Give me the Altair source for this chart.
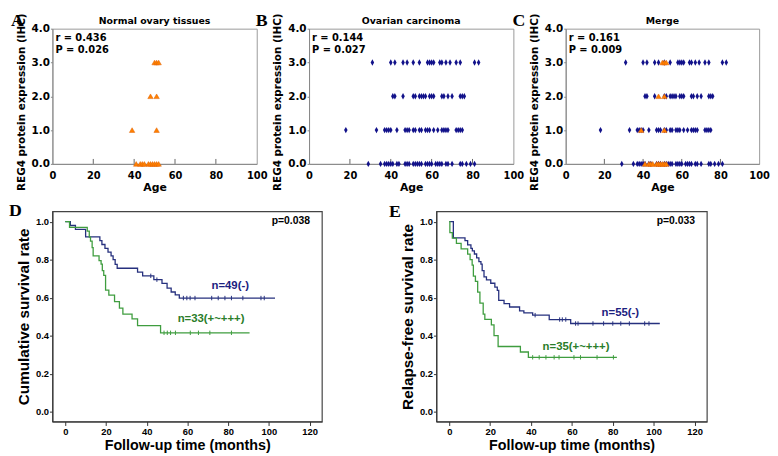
import altair as alt
import pandas as pd

# ---------------- data ----------------
levels = [0, 1, 2, 3]
level_ticks = [0, 1, 2, 3, 4]
age_ticks = [0, 20, 40, 60, 80, 100]

# Normal ovary tissues (orange triangles): ages per IHC level 0,1,2,3
normal_ages = [
    [41, 43, 44, 45, 47, 48, 49, 50, 51, 52],
    [39, 51],
    [48, 51],
    [50, 51, 52],
]
# Ovarian carcinoma (navy diamonds): ages per IHC level 0,1,2,3
carc_ages = [
    [29, 35, 37, 38, 39, 40, 41, 43, 44, 47, 48, 49, 51, 52, 53, 54, 55, 57,
     58, 59, 60, 62, 63, 64, 65, 67, 68, 70, 74, 75, 77, 79, 81],
    [18, 33, 37, 38, 39, 40, 43, 47, 48, 49, 51, 52, 54, 55, 57, 58, 59, 61,
     63, 65, 66, 67, 68, 72, 73, 74, 75],
    [41, 42, 46, 51, 52, 54, 55, 56, 57, 59, 60, 61, 65, 66, 68, 70, 74, 75, 76],
    [31, 40, 42, 46, 48, 51, 54, 58, 59, 60, 61, 64, 65, 67, 69, 72, 74, 81, 83],
]
panel_titles = ["Normal ovary tissues", "Ovarian carcinoma", "Merge"]
panel_stats = [("r = 0.436", "P = 0.026"), ("r = 0.144", "P = 0.027"),
               ("r = 0.161", "P = 0.009")]

# Kaplan-Meier, panel D (overall survival)
d_neg_t = [0, 2.5, 5, 10, 17, 18, 19.5, 21, 22.5, 23.5, 24.5, 25.5, 35.5, 38,
           43.5, 47.5, 50, 52, 54, 56, 103]
d_neg_s = [1.0, 0.98, 0.96, 0.92, 0.90, 0.88, 0.86, 0.84, 0.82, 0.80, 0.775,
           0.755, 0.735, 0.715, 0.695, 0.675, 0.65, 0.63, 0.615, 0.598, 0.598]
d_pos_t = [0, 2.1, 10.8, 11.8, 12.4, 13.2, 13.7, 16.6, 17.6, 18.2, 18.9, 19.8,
           21.4, 24.2, 26.6, 28.3, 32.8, 35.5, 46.8, 90.5]
d_pos_s = [1.0, 0.97, 0.95, 0.919, 0.898, 0.864, 0.82, 0.795, 0.777, 0.743,
           0.717, 0.64, 0.613, 0.579, 0.545, 0.514, 0.488, 0.453, 0.415, 0.415]
d_neg_cens_t = [42, 45, 58, 59.7, 61.3, 63.7, 71.9, 75.1, 78.4, 81.6, 87.2, 96.1, 97.7]
d_neg_cens_s = [0.715, 0.695, 0.598, 0.598, 0.598, 0.598, 0.598, 0.598, 0.598,
                0.598, 0.598, 0.598, 0.598]
d_pos_cens_t = [48.5, 50.1, 51.7, 54.1, 61.4, 65.4, 71, 81.6]
d_pos_cens_s = [0.415] * 8

# Kaplan-Meier, panel E (relapse-free survival)
e_neg_t = [0, 2, 7.7, 9, 10.6, 11.3, 12.3, 13.4, 14.5, 15.5, 16.1, 17, 18.2,
           20.3, 22.3, 23.5, 24.2, 26.8, 29.5, 34.4, 36.5, 40.8, 48.9, 59.4, 103]
e_neg_s = [1.0, 0.915, 0.90, 0.878, 0.86, 0.847, 0.83, 0.81, 0.79, 0.777, 0.743,
           0.71, 0.694, 0.676, 0.656, 0.638, 0.586, 0.569, 0.551, 0.53, 0.52,
           0.508, 0.485, 0.464, 0.464]
e_pos_t = [0, 0.3, 1.5, 3.5, 5.8, 9, 10.2, 11.2, 11.8, 12.8, 13.9, 15, 16.6,
           17.4, 20.6, 21.9, 23.9, 34.8, 38.7, 82]
e_pos_s = [1.0, 0.943, 0.914, 0.886, 0.857, 0.829, 0.8, 0.771, 0.714, 0.686,
           0.629, 0.571, 0.514, 0.486, 0.457, 0.4, 0.343, 0.314, 0.286, 0.286]
e_neg_cens_t = [42, 54, 55.3, 57, 61.8, 63, 70.3, 75.5, 80, 83.9, 88.1, 95.6, 97.7]
e_neg_cens_s = [0.508, 0.485, 0.485, 0.485, 0.464, 0.464, 0.464, 0.464, 0.464,
                0.464, 0.464, 0.464, 0.464]
e_pos_cens_t = [40.8, 44, 47.3, 51.3, 53.7, 61, 64.2, 72.3, 80.3]
e_pos_cens_s = [0.286] * 9

month_ticks = [0, 20, 40, 60, 80, 100, 120]
surv_ticks = [0.0, 0.2, 0.4, 0.6, 0.8, 1.0]

# ---------------- styles ----------------
SC_FONT = "DejaVu Sans"
KM_FONT = "Liberation Sans"
LETTER_FONT = "Liberation Serif"
NAVY = "#12128a"
ORANGE = "#ff8000"
KM_BLUE = "#26307e"
KM_GREEN = "#3f9d3f"
TXT_BLUE = "#1c2180"
TXT_GREEN = "#2a7d2a"
DIAMOND = "M0,-1L0.55,0L0,1L-0.55,0Z"
TICKMARK = "M0,-1L0,1"

SC_H = 137
KM_H = 213


def long_df(lists):
    rows = []
    for lvl, ages in zip(levels, lists):
        for a in ages:
            rows.append({"age": a, "level": lvl})
    return pd.DataFrame(rows)


def text_layer(txt, x, y, size, font, color="black", align="left",
               baseline="top", weight="bold"):
    return alt.Chart(pd.DataFrame({"txt": [txt]})).mark_text(
        align=align, baseline=baseline, font=font, fontSize=size,
        fontWeight=weight, color=color
    ).encode(text="txt:N", x=alt.value(x), y=alt.value(y))


def scatter_panel(idx, letter, width, show_blue, show_orange):
    xenc = alt.X("age:Q", scale=alt.Scale(domain=[0, 100], nice=False, zero=False),
                 axis=alt.Axis(values=age_ticks, title="Age", grid=False,
                               labelFont=SC_FONT, labelFontSize=10,
                               labelFontWeight="bold", labelColor="black",
                               titleFont=SC_FONT, titleFontSize=11,
                               titleFontWeight="bold", titleColor="black",
                               domainColor="#888", tickSize=0, labelPadding=7,
                               titlePadding=1, labelFlush=False,
                               labelOverlap=False))
    yenc = alt.Y("level:Q", scale=alt.Scale(domain=[0, 4], nice=False, zero=False),
                 axis=alt.Axis(values=level_ticks, format=".1f",
                               title="REG4 protein expression (IHC)", grid=False,
                               labelFont=SC_FONT, labelFontSize=10.5,
                               labelFontWeight="bold", labelColor="black",
                               titleFont=SC_FONT, titleFontSize=10.5,
                               titleFontWeight="bold", titleColor="black",
                               titleY=74,
                               domainColor="#888", tickColor="#888", tickSize=2,
                               labelPadding=1, titlePadding=5,
                               labelOverlap=False, labelFlush=False))
    layers = []
    base_axis = alt.Chart(long_df(carc_ages)).mark_point(opacity=0).encode(x=xenc, y=yenc)
    layers.append(base_axis)
    inner_ticks = alt.Chart(pd.DataFrame({"age": age_ticks[1:-1]})).mark_rule(
        color="#666", strokeWidth=1).encode(
        x=xenc, y=alt.value(SC_H), y2=alt.value(SC_H - 5))
    layers.append(inner_ticks)
    if show_blue:
        layers.append(alt.Chart(long_df(carc_ages)).mark_point(
            shape=DIAMOND, size=42, filled=True, color=NAVY, opacity=1
        ).encode(x=xenc, y=yenc))
    if show_orange:
        layers.append(alt.Chart(long_df(normal_ages)).mark_point(
            shape="triangle-up", size=30, filled=True, color=ORANGE, opacity=1,
            stroke="#e06000", strokeWidth=0.5
        ).encode(x=xenc, y=yenc))
    r_txt, p_txt = panel_stats[idx]
    layers.append(text_layer(r_txt, 3, 4, 10, SC_FONT))
    layers.append(text_layer(p_txt, 3, 17, 10, SC_FONT))
    # panel title as a text mark centred above the plot
    layers.append(text_layer(panel_titles[idx], width / 2, -3, 9.5, SC_FONT,
                             align="center", baseline="bottom"))
    layers.append(text_layer(letter, -42 if letter == "A" else -54, -17, 18, LETTER_FONT))
    return alt.layer(*layers).properties(
        width=width, height=SC_H,
        view=alt.ViewBackground(stroke="#999", strokeWidth=1),
    )


def km_df(t, s):
    return pd.DataFrame({"t": t, "s": s})


def km_panel(letter, letter_dx, letter_dy, ytitle, width,
             neg_t, neg_s, pos_t, pos_s, nc_t, nc_s, pc_t, pc_s,
             neg_label, neg_pos, pos_label, pos_pos, ptxt):
    xenc = alt.X("t:Q", scale=alt.Scale(domain=[-6.3, 126], nice=False, zero=False),
                 axis=alt.Axis(values=month_ticks, format="d",
                               title="Follow-up time (months)", grid=False,
                               labelFont=KM_FONT, labelFontSize=9.5,
                               labelFontWeight="bold", labelColor="black",
                               titleFont=KM_FONT, titleFontSize=14.5,
                               titleFontWeight="bold", titleColor="black",
                               domainColor="#333", tickColor="#333", tickSize=4,
                               labelPadding=1, titlePadding=3,
                               labelOverlap=False))
    yenc = alt.Y("s:Q", scale=alt.Scale(domain=[-0.052, 1.055], nice=False, zero=False),
                 axis=alt.Axis(values=surv_ticks, format=".1f", title=ytitle,
                               grid=False, labelFont=KM_FONT, labelFontSize=9.5,
                               labelFontWeight="bold", labelColor="black",
                               titleFont=KM_FONT, titleFontSize=15.5,
                               titleFontWeight="bold", titleColor="black",
                               domainColor="#333", tickColor="#333", tickSize=3,
                               labelPadding=1, titlePadding=4,
                               labelOverlap=False))
    neg_line = alt.Chart(km_df(neg_t, neg_s)).mark_line(
        interpolate="step-after", color=KM_BLUE, strokeWidth=1.3).encode(x=xenc, y=yenc)
    pos_line = alt.Chart(km_df(pos_t, pos_s)).mark_line(
        interpolate="step-after", color=KM_GREEN, strokeWidth=1.3).encode(x=xenc, y=yenc)
    neg_c = alt.Chart(km_df(nc_t, nc_s)).mark_point(
        shape=TICKMARK, size=20, color=KM_BLUE, strokeWidth=1, filled=False,
        opacity=1).encode(x=xenc, y=yenc)
    pos_c = alt.Chart(km_df(pc_t, pc_s)).mark_point(
        shape=TICKMARK, size=20, color=KM_GREEN, strokeWidth=1, filled=False,
        opacity=1).encode(x=xenc, y=yenc)
    neg_txt = alt.Chart(pd.DataFrame({"t": [neg_pos[0]], "s": [neg_pos[1]],
                                      "lab": [neg_label]})).mark_text(
        font=KM_FONT, fontSize=11.5, fontWeight="bold", color=TXT_BLUE
    ).encode(x=xenc, y=yenc, text="lab:N")
    pos_txt = alt.Chart(pd.DataFrame({"t": [pos_pos[0]], "s": [pos_pos[1]],
                                      "lab": [pos_label]})).mark_text(
        font=KM_FONT, fontSize=11.5, fontWeight="bold", color=TXT_GREEN
    ).encode(x=xenc, y=yenc, text="lab:N")
    p_layer = text_layer(ptxt, width - 12, 10, 10.5, KM_FONT, align="right",
                         baseline="middle")
    let = text_layer(letter, letter_dx, letter_dy, 18, LETTER_FONT)
    return alt.layer(neg_line, pos_line, neg_c, pos_c, neg_txt, pos_txt,
                     p_layer, let).properties(
        width=width, height=KM_H,
        view=alt.ViewBackground(stroke="#444", strokeWidth=1.2),
    )


A = scatter_panel(0, "A", 207, False, True)
B = scatter_panel(1, "B", 207, True, False)
C = scatter_panel(2, "C", 196, True, True)

D = km_panel("D", -44, -9, "Cumulative survival rate", 273,
             d_neg_t, d_neg_s, d_pos_t, d_pos_s,
             d_neg_cens_t, d_neg_cens_s, d_pos_cens_t, d_pos_cens_s,
             "n=49(-)", (81, 0.66), "n=33(+~+++)", (71.6, 0.487), "p=0.038")
E = km_panel("E", -48, -8, "Relapse-free survival rate", 274,
             e_neg_t, e_neg_s, e_pos_t, e_pos_s,
             e_neg_cens_t, e_neg_cens_s, e_pos_cens_t, e_pos_cens_s,
             "n=55(-)", (83.7, 0.518), "n=35(+~+++)", (62, 0.34), "p=0.033")

top = alt.HConcatChart(hconcat=[A, B, C], spacing=53, bounds="flush")
bottom = alt.HConcatChart(hconcat=[D, E], spacing=116, bounds="flush")

chart = alt.VConcatChart(vconcat=[top, bottom], spacing=8).properties(
    padding=0, background="white"
).configure_view(stroke="#999")

chart.save("out.html", embed_options={"renderer": "svg", "actions": False})
